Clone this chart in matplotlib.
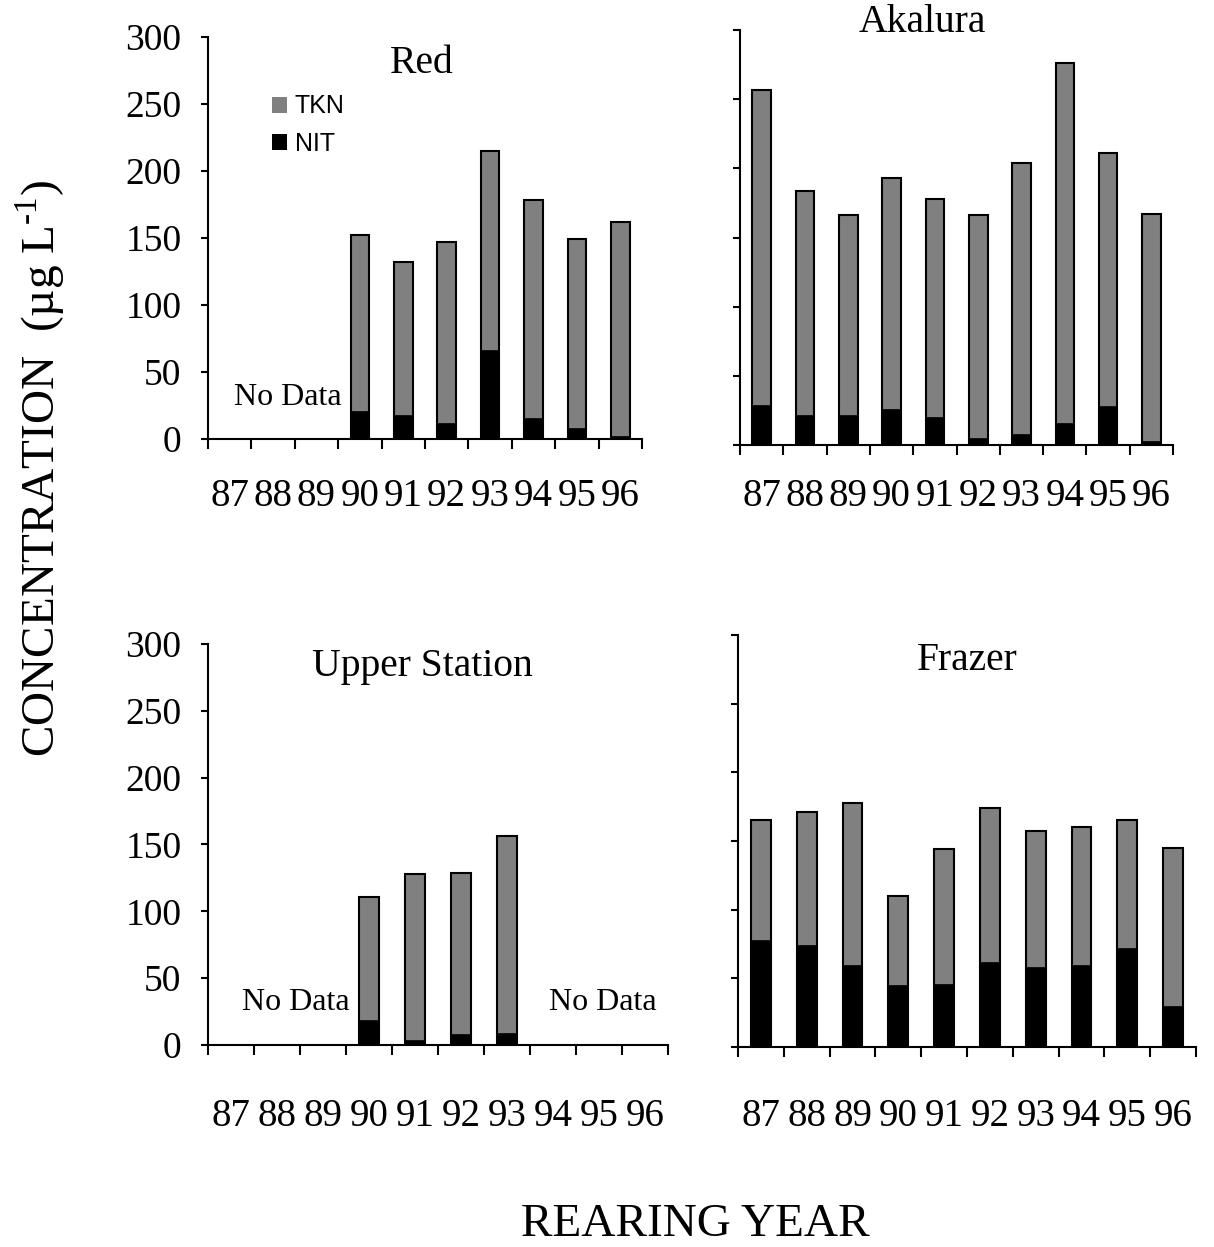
import numpy as np
import matplotlib
matplotlib.use('Agg')
import matplotlib.pyplot as plt
from matplotlib.patches import Patch

# Data (ug/L), years 87..96
years = ['87', '88', '89', '90', '91', '92', '93', '94', '95', '96']

red_tkn = [np.nan, np.nan, np.nan, 152, 132, 147, 215, 178, 149, 162]
red_nit = [np.nan, np.nan, np.nan, 21, 18, 12, 66, 16, 8, 2.5]

akalura_tkn = [257, 184, 166, 193, 178, 166, 204, 276, 211, 167]
akalura_nit = [29, 22, 22, 26, 20, 5, 8, 16, 28, 3]

upper_tkn = [np.nan, np.nan, np.nan, 111, 128, 129, 156, np.nan, np.nan, np.nan]
upper_nit = [np.nan, np.nan, np.nan, 19, 4, 8, 9, np.nan, np.nan, np.nan]

frazer_tkn = [165, 171, 178, 110, 144, 174, 157, 160, 165, 145]
frazer_nit = [78, 74, 60, 45, 46, 62, 58, 60, 72, 30]

plt.rcParams['font.family'] = 'Liberation Serif'
plt.rcParams['mathtext.fontset'] = 'custom'
plt.rcParams['mathtext.rm'] = 'Liberation Serif'

TKN_COLOR = '#808080'
NIT_COLOR = '#000000'

fig = plt.figure(figsize=(12.14, 12.47), dpi=100)

# axes positions (left, bottom, width, height) in figure fraction
panels = [
    ('Red', red_tkn, red_nit, [0.1713, 0.6480, 0.3575, 0.3224], True, (0.493, 0.935), 28),
    ('Akalura', akalura_tkn, akalura_nit, [0.6096, 0.6431, 0.3567, 0.3328], False, (0.42, 1.019), 24),
    ('Upper Station', upper_tkn, upper_nit, [0.1713, 0.1620, 0.3789, 0.3216], True, (0.467, 0.945), 38),
    ('Frazer', frazer_tkn, frazer_nit, [0.6079, 0.1604, 0.3773, 0.3304], False, (0.5, 0.939), 37),
]

axes = {}
for name, tkn, nit, pos, ylabels, tpos, xpad in panels:
    ax = fig.add_axes(pos)
    axes[name] = ax
    x = np.arange(len(years)) + 0.5
    tkn = np.array(tkn, dtype=float)
    nit = np.array(nit, dtype=float)
    ok = ~np.isnan(tkn)
    ax.bar(x[ok], tkn[ok], width=0.43, color=TKN_COLOR, edgecolor='black',
           linewidth=1.5, zorder=2)
    ax.bar(x[ok], nit[ok], width=0.43, color=NIT_COLOR, edgecolor='black',
           linewidth=0.5, zorder=3)

    ax.set_xlim(0, 10)
    ax.set_ylim(0, 300)
    for s in ['top', 'right']:
        ax.spines[s].set_visible(False)
    for s in ['left', 'bottom']:
        ax.spines[s].set_linewidth(1.5)

    ax.set_yticks(np.arange(0, 301, 50))
    if not ylabels:
        ax.set_yticklabels([])
    ax.tick_params(axis='y', direction='out', length=5, width=1.5,
                   labelsize=27, pad=14)

    ax.set_xticks(np.arange(0, 11))
    ax.set_xticklabels([])
    ax.set_xticks(x, minor=True)
    ax.set_xticklabels(years, minor=True)
    ax.tick_params(axis='x', which='major', direction='out', length=7, width=1.5)
    ax.tick_params(axis='x', which='minor', length=0, labelsize=28, pad=xpad)

    ax.text(tpos[0], tpos[1], name, transform=ax.transAxes, ha='center',
            va='center', fontsize=28.5)

axes['Red'].text(1.84, 31, 'No Data', ha='center', va='center', fontsize=23)
axes['Upper Station'].text(1.91, 32, 'No Data', ha='center', va='center', fontsize=23)
axes['Upper Station'].text(8.59, 32, 'No Data', ha='center', va='center', fontsize=23)

handles = [Patch(facecolor=TKN_COLOR, edgecolor='none', label='TKN'),
           Patch(facecolor=NIT_COLOR, edgecolor='none', label='NIT')]
axes['Red'].legend(handles=handles, loc='upper left', bbox_to_anchor=(0.148, 0.857),
                   frameon=False, borderpad=0, borderaxespad=0,
                   handlelength=0.6, handleheight=0.6,
                   handletextpad=0.3, labelspacing=0.55,
                   prop={'family': 'Liberation Sans', 'size': 18}).set_zorder(5)

fig.text(40 / 1214, 1 - 468 / 1247, 'CONCENTRATION  (\u00b5g L$^{\\text{-1}}$)',
         rotation=90, ha='center', va='center', fontsize=34)
fig.text(695 / 1214, 1 - 1225 / 1247, 'REARING YEAR', ha='center',
         va='center', fontsize=34)

fig.savefig('out.png', dpi=100)
